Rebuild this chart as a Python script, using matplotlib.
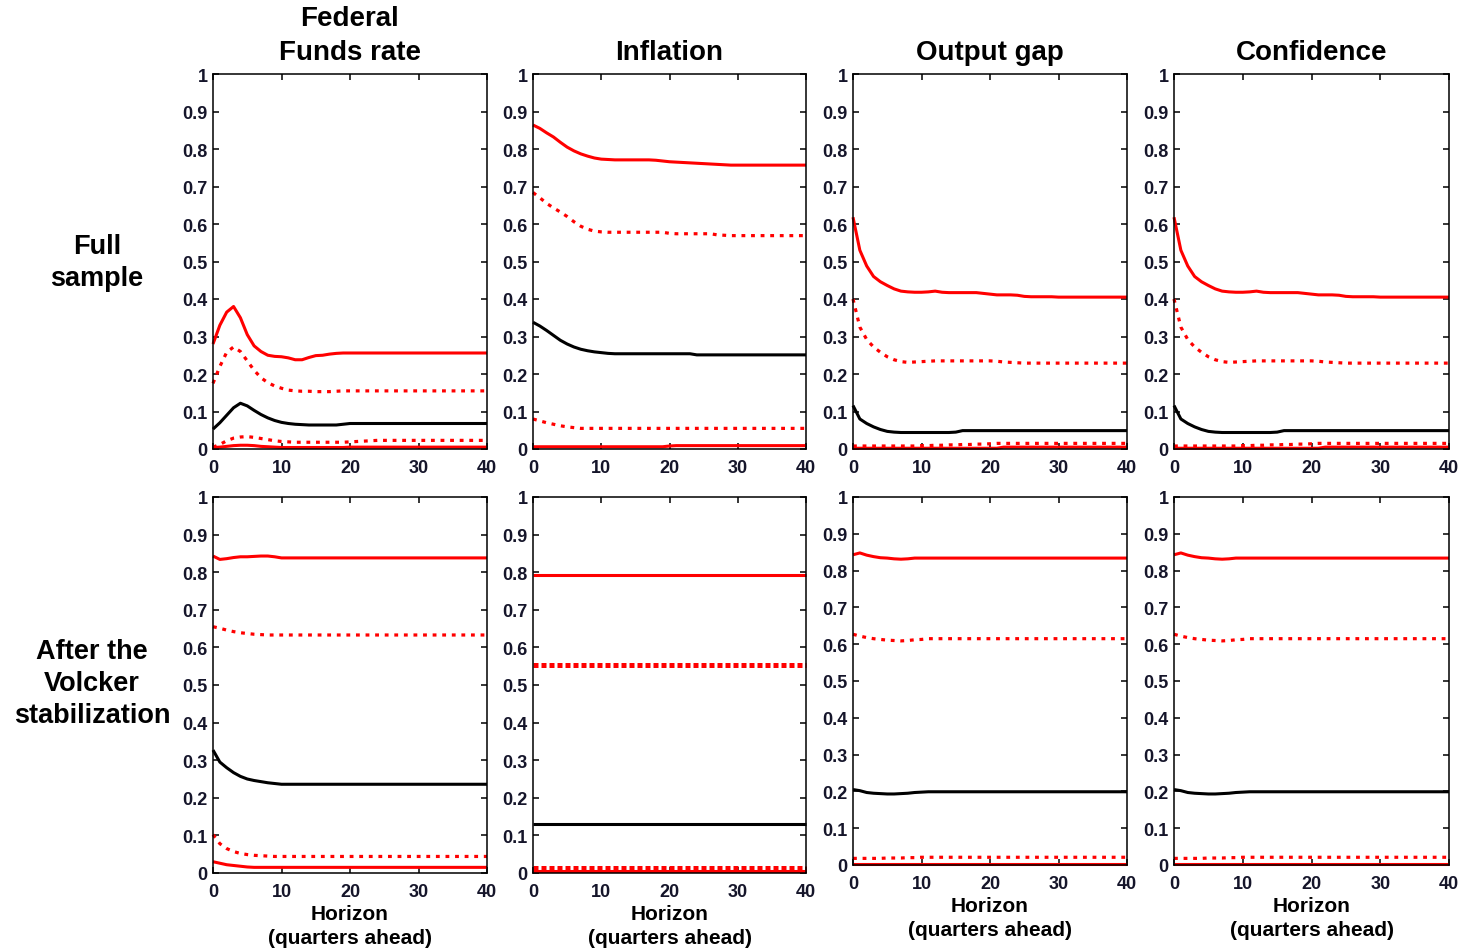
import matplotlib
matplotlib.use("Agg")
import matplotlib.pyplot as plt

plt.rcParams['font.family'] = ['Liberation Sans', 'DejaVu Sans']

# Horizon in quarters
horizon = list(range(41))

variables = ["Federal\nFunds rate", "Inflation", "Output gap", "Confidence"]
samples = ["Full\nsample", "After the\nVolcker\nstabilization"]
y_ticks = [0, 0.1, 0.2, 0.3, 0.4, 0.5, 0.6, 0.7, 0.8, 0.9, 1.0]
y_tick_labels = ["0", "0.1", "0.2", "0.3", "0.4", "0.5", "0.6", "0.7", "0.8", "0.9", "1"]
x_ticks = [0, 10, 20, 30, 40]
x_label = "Horizon\n(quarters ahead)"

# ---- Full sample: Federal Funds rate ----
ffr_full_upper = [
    0.280, 0.330, 0.365, 0.380, 0.350, 0.305, 0.275, 0.260, 0.250, 0.247,
    0.246, 0.243, 0.238, 0.238, 0.244, 0.249, 0.250, 0.253, 0.255, 0.256,
    0.256, 0.256, 0.256, 0.256, 0.256, 0.256, 0.256, 0.256, 0.256, 0.256,
    0.256, 0.256, 0.256, 0.256, 0.256, 0.256, 0.256, 0.256, 0.256, 0.256,
    0.256]
ffr_full_upper_dot = [
    0.175, 0.220, 0.258, 0.272, 0.260, 0.235, 0.210, 0.190, 0.177, 0.168,
    0.162, 0.157, 0.155, 0.154, 0.154, 0.153, 0.153, 0.153, 0.154, 0.155,
    0.155, 0.155, 0.155, 0.155, 0.155, 0.155, 0.155, 0.155, 0.155, 0.155,
    0.155, 0.155, 0.155, 0.155, 0.155, 0.155, 0.155, 0.155, 0.155, 0.155,
    0.155]
ffr_full_median = [
    0.053, 0.070, 0.090, 0.110, 0.122, 0.115, 0.103, 0.092, 0.083, 0.076,
    0.071, 0.068, 0.066, 0.065, 0.064, 0.064, 0.064, 0.064, 0.064, 0.066,
    0.068, 0.068, 0.068, 0.068, 0.068, 0.068, 0.068, 0.068, 0.068, 0.068,
    0.068, 0.068, 0.068, 0.068, 0.068, 0.068, 0.068, 0.068, 0.068, 0.068,
    0.068]
ffr_full_lower_dot = [
    0.005, 0.012, 0.022, 0.029, 0.032, 0.033, 0.031, 0.028, 0.025, 0.022,
    0.020, 0.019, 0.018, 0.018, 0.018, 0.018, 0.018, 0.018, 0.018, 0.018,
    0.019, 0.020, 0.021, 0.022, 0.023, 0.023, 0.023, 0.023, 0.023, 0.023,
    0.023, 0.023, 0.023, 0.023, 0.023, 0.023, 0.023, 0.023, 0.023, 0.023,
    0.023]
ffr_full_lower = [
    0.004, 0.005, 0.007, 0.009, 0.010, 0.010, 0.009, 0.007, 0.006, 0.005,
    0.004, 0.004, 0.004, 0.004, 0.004, 0.004, 0.004, 0.004, 0.004, 0.004,
    0.005, 0.005, 0.005, 0.005, 0.005, 0.005, 0.005, 0.005, 0.005, 0.005,
    0.005, 0.005, 0.005, 0.005, 0.005, 0.005, 0.005, 0.005, 0.005, 0.005,
    0.005]

# ---- Full sample: Inflation ----
infl_full_upper = [
    0.864, 0.855, 0.843, 0.832, 0.818, 0.805, 0.795, 0.787, 0.781, 0.776,
    0.773, 0.772, 0.771, 0.771, 0.771, 0.771, 0.771, 0.771, 0.770, 0.768,
    0.766, 0.765, 0.764, 0.763, 0.762, 0.761, 0.760, 0.759, 0.758, 0.757,
    0.757, 0.757, 0.757, 0.757, 0.757, 0.757, 0.757, 0.757, 0.757, 0.757,
    0.757]
infl_full_upper_dot = [
    0.684, 0.670, 0.655, 0.643, 0.632, 0.620, 0.606, 0.594, 0.586, 0.581,
    0.579, 0.578, 0.578, 0.578, 0.578, 0.578, 0.578, 0.578, 0.578, 0.578,
    0.575, 0.574, 0.574, 0.574, 0.574, 0.574, 0.574, 0.571, 0.570, 0.569,
    0.569, 0.569, 0.569, 0.569, 0.569, 0.569, 0.569, 0.569, 0.569, 0.569,
    0.569]
infl_full_median = [
    0.338, 0.328, 0.316, 0.303, 0.290, 0.280, 0.272, 0.266, 0.262, 0.259,
    0.257, 0.255, 0.254, 0.254, 0.254, 0.254, 0.254, 0.254, 0.254, 0.254,
    0.254, 0.254, 0.254, 0.254, 0.251, 0.251, 0.251, 0.251, 0.251, 0.251,
    0.251, 0.251, 0.251, 0.251, 0.251, 0.251, 0.251, 0.251, 0.251, 0.251,
    0.251]
infl_full_lower_dot = [
    0.080, 0.075, 0.070, 0.066, 0.062, 0.059, 0.057, 0.055, 0.055, 0.055,
    0.055, 0.055, 0.055, 0.055, 0.055, 0.055, 0.055, 0.055, 0.055, 0.055,
    0.055, 0.055, 0.055, 0.055, 0.055, 0.055, 0.055, 0.055, 0.055, 0.055,
    0.055, 0.055, 0.055, 0.055, 0.055, 0.055, 0.055, 0.055, 0.055, 0.055,
    0.055]
infl_full_lower = [
    0.006, 0.006, 0.006, 0.006, 0.006, 0.006, 0.006, 0.006, 0.006, 0.006,
    0.006, 0.006, 0.006, 0.006, 0.006, 0.006, 0.006, 0.006, 0.006, 0.006,
    0.008, 0.009, 0.009, 0.009, 0.009, 0.009, 0.009, 0.009, 0.009, 0.009,
    0.009, 0.009, 0.009, 0.009, 0.009, 0.009, 0.009, 0.009, 0.009, 0.009,
    0.009]

# ---- Full sample: Output gap ----
gap_full_upper = [
    0.618, 0.530, 0.488, 0.460, 0.446, 0.436, 0.427, 0.421, 0.419, 0.418,
    0.418, 0.419, 0.421, 0.418, 0.417, 0.417, 0.417, 0.417, 0.417, 0.415,
    0.413, 0.411, 0.411, 0.411, 0.410, 0.407, 0.406, 0.406, 0.406, 0.406,
    0.405, 0.405, 0.405, 0.405, 0.405, 0.405, 0.405, 0.405, 0.405, 0.405,
    0.405]
gap_full_upper_dot = [
    0.400, 0.325, 0.292, 0.272, 0.258, 0.246, 0.238, 0.233, 0.231, 0.232,
    0.233, 0.234, 0.235, 0.235, 0.235, 0.235, 0.235, 0.235, 0.235, 0.235,
    0.235, 0.234, 0.232, 0.231, 0.230, 0.229, 0.229, 0.229, 0.229, 0.229,
    0.229, 0.229, 0.229, 0.229, 0.229, 0.229, 0.229, 0.229, 0.229, 0.229,
    0.229]
gap_full_median = [
    0.116, 0.080, 0.068, 0.059, 0.052, 0.047, 0.045, 0.044, 0.044, 0.044,
    0.044, 0.044, 0.044, 0.044, 0.044, 0.045, 0.049, 0.049, 0.049, 0.049,
    0.049, 0.049, 0.049, 0.049, 0.049, 0.049, 0.049, 0.049, 0.049, 0.049,
    0.049, 0.049, 0.049, 0.049, 0.049, 0.049, 0.049, 0.049, 0.049, 0.049,
    0.049]
gap_full_lower_dot = [
    0.008, 0.008, 0.008, 0.008, 0.008, 0.008, 0.008, 0.008, 0.008, 0.008,
    0.009, 0.009, 0.010, 0.010, 0.011, 0.011, 0.012, 0.012, 0.013, 0.013,
    0.014, 0.015, 0.015, 0.015, 0.015, 0.015, 0.015, 0.015, 0.015, 0.015,
    0.015, 0.015, 0.015, 0.015, 0.015, 0.015, 0.015, 0.015, 0.015, 0.015,
    0.015]
gap_full_lower = [
    0.002, 0.002, 0.002, 0.002, 0.002, 0.002, 0.002, 0.002, 0.002, 0.002,
    0.002, 0.002, 0.002, 0.002, 0.002, 0.002, 0.002, 0.002, 0.002, 0.002,
    0.002, 0.002, 0.005, 0.005, 0.005, 0.005, 0.005, 0.005, 0.005, 0.005,
    0.005, 0.005, 0.005, 0.005, 0.005, 0.005, 0.005, 0.005, 0.005, 0.005,
    0.005]

# ---- Full sample: Confidence ----
conf_full_upper = [
    0.618, 0.530, 0.488, 0.460, 0.446, 0.436, 0.427, 0.421, 0.419, 0.418,
    0.418, 0.419, 0.421, 0.418, 0.417, 0.417, 0.417, 0.417, 0.417, 0.415,
    0.413, 0.411, 0.411, 0.411, 0.410, 0.407, 0.406, 0.406, 0.406, 0.406,
    0.405, 0.405, 0.405, 0.405, 0.405, 0.405, 0.405, 0.405, 0.405, 0.405,
    0.405]
conf_full_upper_dot = [
    0.400, 0.325, 0.292, 0.272, 0.258, 0.246, 0.238, 0.233, 0.231, 0.232,
    0.233, 0.234, 0.235, 0.235, 0.235, 0.235, 0.235, 0.235, 0.235, 0.235,
    0.235, 0.234, 0.232, 0.231, 0.230, 0.229, 0.229, 0.229, 0.229, 0.229,
    0.229, 0.229, 0.229, 0.229, 0.229, 0.229, 0.229, 0.229, 0.229, 0.229,
    0.229]
conf_full_median = [
    0.116, 0.080, 0.068, 0.059, 0.052, 0.047, 0.045, 0.044, 0.044, 0.044,
    0.044, 0.044, 0.044, 0.044, 0.044, 0.045, 0.049, 0.049, 0.049, 0.049,
    0.049, 0.049, 0.049, 0.049, 0.049, 0.049, 0.049, 0.049, 0.049, 0.049,
    0.049, 0.049, 0.049, 0.049, 0.049, 0.049, 0.049, 0.049, 0.049, 0.049,
    0.049]
conf_full_lower_dot = [
    0.008, 0.008, 0.008, 0.008, 0.008, 0.008, 0.008, 0.008, 0.008, 0.008,
    0.009, 0.009, 0.010, 0.010, 0.011, 0.011, 0.012, 0.012, 0.013, 0.013,
    0.014, 0.015, 0.015, 0.015, 0.015, 0.015, 0.015, 0.015, 0.015, 0.015,
    0.015, 0.015, 0.015, 0.015, 0.015, 0.015, 0.015, 0.015, 0.015, 0.015,
    0.015]
conf_full_lower = [
    0.002, 0.002, 0.002, 0.002, 0.002, 0.002, 0.002, 0.002, 0.002, 0.002,
    0.002, 0.002, 0.002, 0.002, 0.002, 0.002, 0.002, 0.002, 0.002, 0.002,
    0.002, 0.002, 0.005, 0.005, 0.005, 0.005, 0.005, 0.005, 0.005, 0.005,
    0.005, 0.005, 0.005, 0.005, 0.005, 0.005, 0.005, 0.005, 0.005, 0.005,
    0.005]

# ---- After the Volcker stabilization: Federal Funds rate ----
ffr_post_upper = [
    0.843, 0.834, 0.836, 0.839, 0.841, 0.841, 0.842, 0.843, 0.843, 0.841,
    0.838, 0.838, 0.838, 0.838, 0.838, 0.838, 0.838, 0.838, 0.838, 0.838,
    0.838, 0.838, 0.838, 0.838, 0.838, 0.838, 0.838, 0.838, 0.838, 0.838,
    0.838, 0.838, 0.838, 0.838, 0.838, 0.838, 0.838, 0.838, 0.838, 0.838,
    0.838]
ffr_post_upper_dot = [
    0.655, 0.651, 0.646, 0.642, 0.639, 0.637, 0.635, 0.634, 0.633, 0.633,
    0.633, 0.633, 0.633, 0.633, 0.633, 0.633, 0.633, 0.633, 0.633, 0.633,
    0.633, 0.633, 0.633, 0.633, 0.633, 0.633, 0.633, 0.633, 0.633, 0.633,
    0.633, 0.633, 0.633, 0.633, 0.633, 0.633, 0.633, 0.633, 0.633, 0.633,
    0.633]
ffr_post_median = [
    0.327, 0.295, 0.280, 0.267, 0.257, 0.250, 0.246, 0.243, 0.240, 0.238,
    0.236, 0.236, 0.236, 0.236, 0.236, 0.236, 0.236, 0.236, 0.236, 0.236,
    0.236, 0.236, 0.236, 0.236, 0.236, 0.236, 0.236, 0.236, 0.236, 0.236,
    0.236, 0.236, 0.236, 0.236, 0.236, 0.236, 0.236, 0.236, 0.236, 0.236,
    0.236]
ffr_post_lower_dot = [
    0.102, 0.078, 0.065, 0.057, 0.052, 0.049, 0.047, 0.046, 0.045, 0.044,
    0.044, 0.044, 0.044, 0.044, 0.044, 0.044, 0.044, 0.044, 0.044, 0.044,
    0.044, 0.044, 0.044, 0.044, 0.044, 0.044, 0.044, 0.044, 0.044, 0.044,
    0.044, 0.044, 0.044, 0.044, 0.044, 0.044, 0.044, 0.044, 0.044, 0.044,
    0.044]
ffr_post_lower = [
    0.030, 0.026, 0.022, 0.020, 0.018, 0.016, 0.015, 0.015, 0.015, 0.015,
    0.015, 0.015, 0.015, 0.015, 0.015, 0.015, 0.015, 0.015, 0.015, 0.015,
    0.015, 0.015, 0.015, 0.015, 0.015, 0.015, 0.015, 0.015, 0.015, 0.015,
    0.015, 0.015, 0.015, 0.015, 0.015, 0.015, 0.015, 0.015, 0.015, 0.015,
    0.015]

# ---- After the Volcker stabilization: Inflation (flat bands) ----
infl_post_upper = [
    0.793, 0.793, 0.793, 0.793, 0.793, 0.793, 0.793, 0.793, 0.793, 0.793,
    0.793, 0.793, 0.793, 0.793, 0.793, 0.793, 0.793, 0.793, 0.793, 0.793,
    0.793, 0.793, 0.793, 0.793, 0.793, 0.793, 0.793, 0.793, 0.793, 0.793,
    0.793, 0.793, 0.793, 0.793, 0.793, 0.793, 0.793, 0.793, 0.793, 0.793,
    0.793]
infl_post_upper_dot = [
    0.553, 0.553, 0.553, 0.553, 0.553, 0.553, 0.553, 0.553, 0.553, 0.553,
    0.553, 0.553, 0.553, 0.553, 0.553, 0.553, 0.553, 0.553, 0.553, 0.553,
    0.553, 0.553, 0.553, 0.553, 0.553, 0.553, 0.553, 0.553, 0.553, 0.553,
    0.553, 0.553, 0.553, 0.553, 0.553, 0.553, 0.553, 0.553, 0.553, 0.553,
    0.553]
infl_post_median = [
    0.131, 0.131, 0.131, 0.131, 0.131, 0.131, 0.131, 0.131, 0.131, 0.131,
    0.131, 0.131, 0.131, 0.131, 0.131, 0.131, 0.131, 0.131, 0.131, 0.131,
    0.131, 0.131, 0.131, 0.131, 0.131, 0.131, 0.131, 0.131, 0.131, 0.131,
    0.131, 0.131, 0.131, 0.131, 0.131, 0.131, 0.131, 0.131, 0.131, 0.131,
    0.131]
infl_post_lower_dot = [
    0.012, 0.012, 0.012, 0.012, 0.012, 0.012, 0.012, 0.012, 0.012, 0.012,
    0.012, 0.012, 0.012, 0.012, 0.012, 0.012, 0.012, 0.012, 0.012, 0.012,
    0.012, 0.012, 0.012, 0.012, 0.012, 0.012, 0.012, 0.012, 0.012, 0.012,
    0.012, 0.012, 0.012, 0.012, 0.012, 0.012, 0.012, 0.012, 0.012, 0.012,
    0.012]
infl_post_lower = [
    0.004, 0.004, 0.004, 0.004, 0.004, 0.004, 0.004, 0.004, 0.004, 0.004,
    0.004, 0.004, 0.004, 0.004, 0.004, 0.004, 0.004, 0.004, 0.004, 0.004,
    0.004, 0.004, 0.004, 0.004, 0.004, 0.004, 0.004, 0.004, 0.004, 0.004,
    0.004, 0.004, 0.004, 0.004, 0.004, 0.004, 0.004, 0.004, 0.004, 0.004,
    0.004]

# ---- After the Volcker stabilization: Output gap ----
gap_post_upper = [
    0.843, 0.848, 0.842, 0.838, 0.835, 0.834, 0.832, 0.831, 0.832, 0.834,
    0.834, 0.834, 0.834, 0.834, 0.834, 0.834, 0.834, 0.834, 0.834, 0.834,
    0.834, 0.834, 0.834, 0.834, 0.834, 0.834, 0.834, 0.834, 0.834, 0.834,
    0.834, 0.834, 0.834, 0.834, 0.834, 0.834, 0.834, 0.834, 0.834, 0.834,
    0.834]
gap_post_upper_dot = [
    0.627, 0.622, 0.618, 0.615, 0.613, 0.611, 0.610, 0.609, 0.610, 0.612,
    0.613, 0.615, 0.615, 0.615, 0.615, 0.615, 0.615, 0.615, 0.615, 0.615,
    0.615, 0.615, 0.615, 0.615, 0.615, 0.615, 0.615, 0.615, 0.615, 0.615,
    0.615, 0.615, 0.615, 0.615, 0.615, 0.615, 0.615, 0.615, 0.615, 0.615,
    0.615]
gap_post_median = [
    0.205, 0.202, 0.197, 0.195, 0.194, 0.193, 0.193, 0.194, 0.195, 0.197,
    0.198, 0.199, 0.199, 0.199, 0.199, 0.199, 0.199, 0.199, 0.199, 0.199,
    0.199, 0.199, 0.199, 0.199, 0.199, 0.199, 0.199, 0.199, 0.199, 0.199,
    0.199, 0.199, 0.199, 0.199, 0.199, 0.199, 0.199, 0.199, 0.199, 0.199,
    0.199]
gap_post_lower_dot = [
    0.018, 0.018, 0.018, 0.018, 0.018, 0.019, 0.019, 0.019, 0.020, 0.020,
    0.021, 0.021, 0.021, 0.021, 0.021, 0.021, 0.021, 0.021, 0.021, 0.021,
    0.021, 0.021, 0.021, 0.021, 0.021, 0.021, 0.021, 0.021, 0.021, 0.021,
    0.021, 0.021, 0.021, 0.021, 0.021, 0.021, 0.021, 0.021, 0.021, 0.021,
    0.021]
gap_post_lower = [
    0.004, 0.004, 0.004, 0.004, 0.004, 0.004, 0.004, 0.004, 0.004, 0.004,
    0.004, 0.004, 0.004, 0.004, 0.004, 0.004, 0.004, 0.004, 0.004, 0.004,
    0.004, 0.004, 0.004, 0.004, 0.004, 0.004, 0.004, 0.004, 0.004, 0.004,
    0.004, 0.004, 0.004, 0.004, 0.004, 0.004, 0.004, 0.004, 0.004, 0.004,
    0.004]

# ---- After the Volcker stabilization: Confidence ----
conf_post_upper = [
    0.843, 0.848, 0.842, 0.838, 0.835, 0.834, 0.832, 0.831, 0.832, 0.834,
    0.834, 0.834, 0.834, 0.834, 0.834, 0.834, 0.834, 0.834, 0.834, 0.834,
    0.834, 0.834, 0.834, 0.834, 0.834, 0.834, 0.834, 0.834, 0.834, 0.834,
    0.834, 0.834, 0.834, 0.834, 0.834, 0.834, 0.834, 0.834, 0.834, 0.834,
    0.834]
conf_post_upper_dot = [
    0.627, 0.622, 0.618, 0.615, 0.613, 0.611, 0.610, 0.609, 0.610, 0.612,
    0.613, 0.615, 0.615, 0.615, 0.615, 0.615, 0.615, 0.615, 0.615, 0.615,
    0.615, 0.615, 0.615, 0.615, 0.615, 0.615, 0.615, 0.615, 0.615, 0.615,
    0.615, 0.615, 0.615, 0.615, 0.615, 0.615, 0.615, 0.615, 0.615, 0.615,
    0.615]
conf_post_median = [
    0.205, 0.202, 0.197, 0.195, 0.194, 0.193, 0.193, 0.194, 0.195, 0.197,
    0.198, 0.199, 0.199, 0.199, 0.199, 0.199, 0.199, 0.199, 0.199, 0.199,
    0.199, 0.199, 0.199, 0.199, 0.199, 0.199, 0.199, 0.199, 0.199, 0.199,
    0.199, 0.199, 0.199, 0.199, 0.199, 0.199, 0.199, 0.199, 0.199, 0.199,
    0.199]
conf_post_lower_dot = [
    0.018, 0.018, 0.018, 0.018, 0.018, 0.019, 0.019, 0.019, 0.020, 0.020,
    0.021, 0.021, 0.021, 0.021, 0.021, 0.021, 0.021, 0.021, 0.021, 0.021,
    0.021, 0.021, 0.021, 0.021, 0.021, 0.021, 0.021, 0.021, 0.021, 0.021,
    0.021, 0.021, 0.021, 0.021, 0.021, 0.021, 0.021, 0.021, 0.021, 0.021,
    0.021]
conf_post_lower = [
    0.004, 0.004, 0.004, 0.004, 0.004, 0.004, 0.004, 0.004, 0.004, 0.004,
    0.004, 0.004, 0.004, 0.004, 0.004, 0.004, 0.004, 0.004, 0.004, 0.004,
    0.004, 0.004, 0.004, 0.004, 0.004, 0.004, 0.004, 0.004, 0.004, 0.004,
    0.004, 0.004, 0.004, 0.004, 0.004, 0.004, 0.004, 0.004, 0.004, 0.004,
    0.004]

panels = [
    [
        (ffr_full_upper, ffr_full_upper_dot, ffr_full_median, ffr_full_lower_dot, ffr_full_lower),
        (infl_full_upper, infl_full_upper_dot, infl_full_median, infl_full_lower_dot, infl_full_lower),
        (gap_full_upper, gap_full_upper_dot, gap_full_median, gap_full_lower_dot, gap_full_lower),
        (conf_full_upper, conf_full_upper_dot, conf_full_median, conf_full_lower_dot, conf_full_lower),
    ],
    [
        (ffr_post_upper, ffr_post_upper_dot, ffr_post_median, ffr_post_lower_dot, ffr_post_lower),
        (infl_post_upper, infl_post_upper_dot, infl_post_median, infl_post_lower_dot, infl_post_lower),
        (gap_post_upper, gap_post_upper_dot, gap_post_median, gap_post_lower_dot, gap_post_lower),
        (conf_post_upper, conf_post_upper_dot, conf_post_median, conf_post_lower_dot, conf_post_lower),
    ],
]

W, H = 1464, 953
fig = plt.figure(figsize=(W / 100, H / 100), dpi=100)
fig.patch.set_facecolor("white")

# axes boxes in pixels: (left, top, right, bottom)
col_x = [(213, 487), (533, 806), (853, 1127), (1174, 1449)]
row_y = [[(75, 450)] * 4,
         [(498, 874), (498, 874), (498, 866), (498, 866)]]

RED = "#ff0000"
DOT = (0, (1.2, 1.8))
TICK_COLOR = "#15152a"

for r in range(2):
    for c in range(4):
        x0, x1 = col_x[c]
        y0, y1 = row_y[r][c]
        ax = fig.add_axes([x0 / W, 1 - y1 / H, (x1 - x0) / W, (y1 - y0) / H])
        upper, upper_dot, median, lower_dot, lower = panels[r][c]
        thick = (r == 1 and c == 1)
        dot_lw = 3.6 if thick else 2.3
        dot_style = (0, (1.0, 0.6)) if thick else DOT
        ax.plot(horizon, upper, color=RED, lw=2.2, clip_on=False, solid_capstyle="butt")
        ax.plot(horizon, upper_dot, color=RED, lw=dot_lw, linestyle=dot_style, clip_on=False)
        ax.plot(horizon, median, color="black", lw=2.2, clip_on=False, solid_capstyle="butt")
        ax.plot(horizon, lower_dot, color=RED, lw=dot_lw, linestyle=dot_style, clip_on=False)
        ax.plot(horizon, lower, color=RED, lw=2.2, clip_on=False, solid_capstyle="butt")

        ax.set_xlim(0, 40)
        ax.set_ylim(0, 1)
        ax.set_xticks(x_ticks)
        ax.set_xticklabels([str(t) for t in x_ticks], fontweight="bold")
        ax.set_yticks(y_ticks)
        ax.set_yticklabels(y_tick_labels, fontweight="bold")
        ax.tick_params(direction="in", top=True, right=True, length=4, width=1.1,
                       labelsize=13, labelcolor=TICK_COLOR)
        ax.tick_params(axis="x", pad=7)
        ax.tick_params(axis="y", pad=4)
        for s in ax.spines.values():
            s.set_linewidth(1.1)
            s.set_color("black")
        if r == 0:
            ax.set_title(variables[c], fontsize=20, fontweight="bold", pad=11,
                         linespacing=1.37)
        else:
            ax.set_xlabel(x_label, fontsize=15, fontweight="bold", labelpad=3,
                          linespacing=1.32)

fig.text(97 / W, 1 - 263 / H, samples[0], ha="center", va="center",
         fontsize=19.5, fontweight="bold", linespacing=1.3)
fig.text(92 / W, 1 - 684 / H, samples[1], ha="center", va="center",
         fontsize=19.5, fontweight="bold", linespacing=1.3)

fig.savefig("out.png", dpi=100, facecolor="white")
